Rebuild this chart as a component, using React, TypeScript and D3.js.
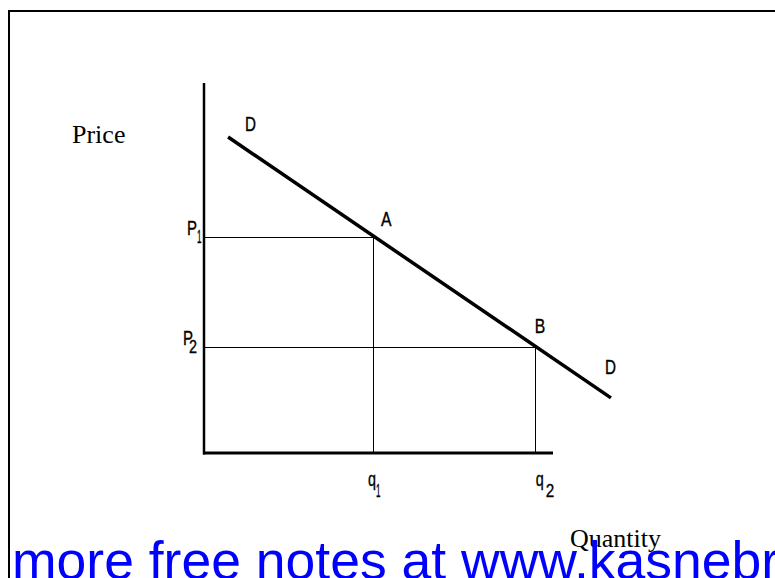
import React from "react";
import * as d3 from "d3";

// Data (in chart units: quantity 0..100, price 0..100)
const demandLine = [
  { q: 6.9, p: 85.4 },
  { q: 116.6, p: 14.9 },
];
const points = [
  { name: "A", q: 48.4, p: 58.4, priceLabel: "P", priceSub: "1", qtyLabel: "q", qtySub: "1" },
  { name: "B", q: 94.8, p: 28.6, priceLabel: "P", priceSub: "2", qtyLabel: "q", qtySub: "2" },
];
const axisLabels = { y: "Price", x: "Quantity" };
const curveLabel = "D";
const footer = "more free notes at www.kasnebr";

const W = 775;
const H = 578;

// layout offsets for labels (pixels)
const pointLabelOff = [
  { dx: 8, dy: -11 },
  { dx: 0, dy: -14 },
];
const priceLabelOff = [
  { px: -17, sx: -7, sw: 4.5 },
  { px: -21, sx: -15, sw: 8 },
];
const qtyLabelOff = [
  { qx: -5, sx: 3, sw: 4.5 },
  { qx: 1, sx: 11, sw: 8.5 },
];

export default function App() {
  const x = d3.scaleLinear().domain([0, 100]).range([204, 553]);
  const y = d3.scaleLinear().domain([0, 100]).range([453, 83]);
  const line = d3
    .line<{ q: number; p: number }>()
    .x((d) => x(d.q))
    .y((d) => y(d.p));

  const lblFont = "'Liberation Sans', Arial, sans-serif";
  const d0 = demandLine[0];
  const d1 = demandLine[demandLine.length - 1];

  return (
    <svg
      width={W}
      height={H}
      style={{ position: "absolute", left: 0, top: 0, display: "block", background: "#fff" }}
    >
      <rect x={9} y={11} width={800} height={620} fill="none" stroke="#000" strokeWidth={2} />

      {/* guide lines */}
      {points.map((pt) => (
        <g key={pt.name} stroke="#000" strokeWidth={1} shapeRendering="crispEdges">
          <line x1={x(0)} x2={x(pt.q)} y1={Math.round(y(pt.p)) + 0.5} y2={Math.round(y(pt.p)) + 0.5} />
          <line x1={Math.round(x(pt.q)) + 0.5} x2={Math.round(x(pt.q)) + 0.5} y1={y(pt.p)} y2={y(0)} />
        </g>
      ))}

      {/* axes */}
      <line x1={x(0)} x2={x(0)} y1={y(100)} y2={y(0) + 1.5} stroke="#000" strokeWidth={2.5} />
      <line x1={x(0) - 1} x2={x(100)} y1={y(0)} y2={y(0)} stroke="#000" strokeWidth={3} />

      {/* demand curve */}
      <path d={line(demandLine) || ""} fill="none" stroke="#000" strokeWidth={3.5} />

      {/* labels */}
      <g fontFamily={lblFont} fontSize={19.5} fill="#000" stroke="#000" strokeWidth={0.35}>
        <text x={x(d0.q) + 17} y={y(d0.p) - 6} textLength={11} lengthAdjust="spacingAndGlyphs">
          {curveLabel}
        </text>
        <text x={x(d1.q) - 6} y={y(d1.p) - 24} textLength={11} lengthAdjust="spacingAndGlyphs">
          {curveLabel}
        </text>
        {points.map((pt, i) => (
          <g key={pt.name}>
            <text
              x={x(pt.q) + pointLabelOff[i].dx}
              y={y(pt.p) + pointLabelOff[i].dy}
              textLength={10.5}
              lengthAdjust="spacingAndGlyphs"
            >
              {pt.name}
            </text>
            <text
              x={x(0) + priceLabelOff[i].px}
              y={y(pt.p) - 2}
              textLength={10}
              lengthAdjust="spacingAndGlyphs"
            >
              {pt.priceLabel}
            </text>
            <text
              x={x(0) + priceLabelOff[i].sx}
              y={y(pt.p) + 6}
              fontSize={18}
              textLength={priceLabelOff[i].sw}
              lengthAdjust="spacingAndGlyphs"
            >
              {pt.priceSub}
            </text>
            <text
              x={x(pt.q) + qtyLabelOff[i].qx}
              y={y(0) + 33}
              textLength={8}
              lengthAdjust="spacingAndGlyphs"
            >
              {pt.qtyLabel}
            </text>
            <text
              x={x(pt.q) + qtyLabelOff[i].sx}
              y={y(0) + 44}
              fontSize={18}
              textLength={qtyLabelOff[i].sw}
              lengthAdjust="spacingAndGlyphs"
            >
              {pt.qtySub}
            </text>
          </g>
        ))}
      </g>

      <text x={72} y={143} fontFamily="'Liberation Serif', serif" fontSize={26} fill="#000">
        {axisLabels.y}
      </text>
      <text x={570} y={547} fontFamily="'Liberation Serif', serif" fontSize={26} fill="#000">
        {axisLabels.x}
      </text>

      <text x={12} y={579} fontFamily="'Liberation Sans', Arial, sans-serif" fontSize={53.5} fill="#0000FF">
        {footer}
      </text>
    </svg>
  );
}
